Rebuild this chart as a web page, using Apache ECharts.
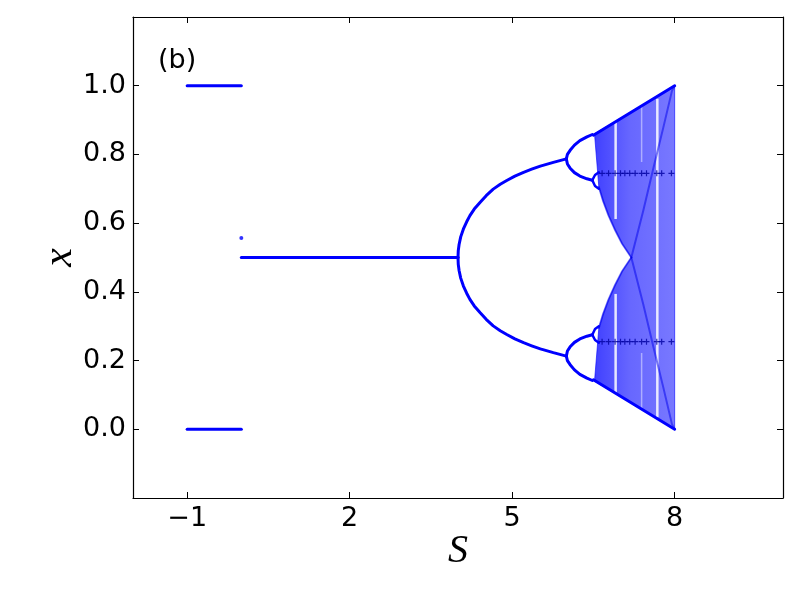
<!DOCTYPE html>
<html>
<head>
<meta charset="utf-8">
<script src="https://cdn.jsdelivr.net/npm/echarts@6/dist/echarts.min.js"></script>
<style>html,body{margin:0;padding:0;background:#fff}#c{width:800px;height:600px}</style>
</head>
<body>
<div id="c"></div>
<script>
// ---- data ----
// period-2 orbit for S in [-1, 0]
const p2aS = [-1, 0];
const p2aTop = [1.0, 1.0];
const p2aBot = [0.0, 0.0];
// isolated point at S = 0
const isoS = [0];
const isoX = [0.557];
// fixed point x = 0.5
const fixS = [0, 4];
const fixX = [0.5, 0.5];
// period-2 branches after S = 4
const p2S  = [4.0, 4.005, 4.02, 4.05, 4.10, 4.16, 4.22, 4.30, 4.41, 4.52, 4.65, 4.78, 4.90, 5.05, 5.21, 5.36, 5.52, 5.76, 6.0];
const p2Up = [0.5, 0.520, 0.538, 0.560, 0.583, 0.604, 0.622, 0.641, 0.661, 0.680, 0.699, 0.713, 0.724, 0.737, 0.748, 0.757, 0.766, 0.777, 0.787];
const p2Lo = [0.5, 0.480, 0.462, 0.440, 0.417, 0.396, 0.378, 0.359, 0.339, 0.320, 0.301, 0.287, 0.276, 0.263, 0.252, 0.243, 0.234, 0.223, 0.213];
// period-4 branches
const p4S  = [6.0, 6.02, 6.07, 6.15, 6.25, 6.38, 6.48];
const p4UU = [0.787, 0.800, 0.812, 0.827, 0.840, 0.851, 0.858];
const p4UL = [0.787, 0.772, 0.760, 0.747, 0.737, 0.729, 0.725];
const p4LU = [0.213, 0.228, 0.240, 0.253, 0.263, 0.271, 0.275];
const p4LL = [0.213, 0.200, 0.188, 0.173, 0.160, 0.149, 0.142];
// period-8 loops
const p8S  = [6.48, 6.53, 6.60];
const p8A  = [0.725, 0.740, 0.748];
const p8B  = [0.725, 0.708, 0.700];
const p8C  = [0.275, 0.260, 0.252];
const p8D  = [0.275, 0.292, 0.300];
// chaotic region outline
const chaosS = [6.52, 8.0, 8.0, 6.52, 6.60, 6.68, 6.78, 6.90, 7.03, 7.20, 7.03, 6.90, 6.78, 6.68, 6.60];
const chaosX = [0.860, 1.0, 0.0, 0.140, 0.295, 0.336, 0.378, 0.420, 0.460, 0.500, 0.540, 0.580, 0.622, 0.664, 0.705];
// envelope edges
const envS  = [6.5, 8.0];
const envUp = [0.856, 1.0];
const envLo = [0.144, 0.0];
// inner band edges and crossing curves
const edgeS  = [6.60, 6.68, 6.78, 6.90, 7.03, 7.20];
const edgeUp = [0.705, 0.664, 0.622, 0.580, 0.540, 0.500];
const edgeLo = [0.295, 0.336, 0.378, 0.420, 0.460, 0.500];
const crossS  = [7.20, 7.42, 7.61, 7.79, 7.95, 8.0];
const crossDn = [0.500, 0.364, 0.238, 0.122, 0.015, 0.0];
const crossUp = [0.500, 0.636, 0.762, 0.878, 0.985, 1.0];
// periodic windows (white gaps)
const gapS    = [6.91, 6.91, 7.68, 7.39, 7.39];
const gapFrom = [0.612, 0.107, 0.035, 0.778, 0.060];
const gapTo   = [0.894, 0.394, 0.962, 0.943, 0.222];
// dotted rows
const dotS  = [6.66, 6.78, 6.90, 7.00, 7.08, 7.17, 7.27, 7.39, 7.48, 7.67, 7.76, 7.94];
const dotHi = 0.745;
const dotLo = 0.255;
// ticks
const xTicks = [-1, 2, 5, 8];

const zip = (a, b) => a.map((v, i) => [v, b[i]]);
const BLUE = '#0000ff';

function lineSeries(s, x, color, width) {
  return {
    type: 'line', data: zip(s, x), showSymbol: false, symbol: 'none', smooth: false,
    lineStyle: { color: color, width: width, cap: 'round', join: 'round' },
    silent: true, z: 5, animation: false
  };
}

const series = [];
// chaotic fill
series.push({
  type: 'custom', silent: true, animation: false, z: 1,
  data: [[chaosS[0], chaosX[0]]],
  renderItem: function (params, api) {
    const pts = chaosS.map((s, i) => api.coord([s, chaosX[i]]));
    return { type: 'polygon', shape: { points: pts }, style: {
      fill: new echarts.graphic.LinearGradient(0, 0, 1, 0, [
        { offset: 0, color: 'rgba(10,10,255,0.78)' },
        { offset: 0.45, color: 'rgba(10,10,255,0.62)' },
        { offset: 1, color: 'rgba(10,10,255,0.55)' }
      ]), stroke: 'rgba(0,0,255,0.6)', lineWidth: 1 } };
  }
});
// gaps
series.push({
  type: 'custom', silent: true, animation: false, z: 2,
  data: gapS.map((s, i) => [s, gapFrom[i], gapTo[i]]),
  encode: { x: 0, y: [1, 2] },
  renderItem: function (params, api) {
    const a = api.coord([api.value(0), api.value(1)]);
    const b = api.coord([api.value(0), api.value(2)]);
    const faint = params.dataIndex >= 3;
    return { type: 'line', shape: { x1: a[0], y1: a[1], x2: b[0], y2: b[1] },
      style: { stroke: '#ffffff', lineWidth: faint ? 1.5 : 2.5, opacity: faint ? 0.45 : 0.85 } };
  }
});
// inner curves
[[edgeS, edgeUp], [edgeS, edgeLo], [crossS, crossDn], [crossS, crossUp]].forEach(p => {
  const s = lineSeries(p[0], p[1], 'rgba(0,0,235,0.5)', 2); s.z = 3; series.push(s);
});
// envelope
series.push(lineSeries(envS, envUp, BLUE, 3));
series.push(lineSeries(envS, envLo, BLUE, 3));
// stable branches
series.push(lineSeries(p2aS, p2aTop, BLUE, 3));
series.push(lineSeries(p2aS, p2aBot, BLUE, 3));
series.push(lineSeries(fixS, fixX, BLUE, 3));
series.push(lineSeries(p2S, p2Up, BLUE, 3));
series.push(lineSeries(p2S, p2Lo, BLUE, 3));
[p4UU, p4UL, p4LU, p4LL].forEach(v => series.push(lineSeries(p4S, v, BLUE, 3)));
[p8A, p8B, p8C, p8D].forEach(v => series.push(lineSeries(p8S, v, BLUE, 2.5)));
// isolated point
series.push({ type: 'scatter', data: zip(isoS, isoX), symbol: 'circle', symbolSize: 4,
  itemStyle: { color: BLUE }, silent: true, z: 6, animation: false });
// dotted rows
const plus = 'path://M2,0H3V2H5V3H3V5H2V3H0V2H2Z';
series.push({ type: 'scatter', data: dotS.map(s => [s, dotHi]).concat(dotS.map(s => [s, dotLo])),
  symbol: plus, symbolSize: 6, itemStyle: { color: '#0000a0' }, silent: true, z: 6, animation: false });

const axisLine = { show: true, onZero: false, lineStyle: { color: '#000', width: 1.2 } };
const tick = { show: true, inside: true, length: 6, lineStyle: { color: '#000', width: 1 } };
const lblFont = { fontFamily: 'DejaVu Sans', fontSize: 27, color: '#000' };

const chart = echarts.init(document.getElementById('c'), null, { renderer: 'canvas' });
chart.setOption({
  animation: false,
  backgroundColor: '#fff',
  title: { text: '(b)', left: 153, top: 42, textStyle: { fontFamily: 'DejaVu Sans', fontSize: 27, fontWeight: 'normal', color: '#000' } },
  grid: { left: 133, right: 17, top: 17, bottom: 102, containLabel: false, outerBoundsMode: 'none' },
  xAxis: [
    { type: 'value', min: -2, max: 10, position: 'bottom', axisLine: axisLine,
      axisTick: Object.assign({}, tick, { customValues: xTicks }),
      axisLabel: Object.assign({}, lblFont, { customValues: xTicks, margin: 7,
        formatter: v => (v < 0 ? '\u2212' + Math.abs(v) : String(v)) }),
      splitLine: { show: false },
      name: 'S', nameLocation: 'middle', nameGap: 33, nameMoveOverlap: false,
      nameTextStyle: { fontFamily: 'Liberation Serif', fontStyle: 'italic', fontSize: 40, color: '#000' } },
    { type: 'value', min: -2, max: 10, position: 'top', axisLine: axisLine,
      axisTick: Object.assign({}, tick, { customValues: xTicks }),
      axisLabel: { show: false }, splitLine: { show: false } }
  ],
  yAxis: [
    { type: 'value', min: -0.2, max: 1.2, interval: 0.2, position: 'left', axisLine: axisLine,
      axisTick: tick,
      axisLabel: Object.assign({}, lblFont, { margin: 7,
        formatter: v => (v < -0.01 || v > 1.01 ? '' : v.toFixed(1)) }),
      splitLine: { show: false },
      name: 'x', nameLocation: 'middle', nameGap: 52, nameRotate: 90, nameMoveOverlap: false,
      nameTextStyle: { fontFamily: 'Liberation Serif', fontStyle: 'italic', fontSize: 42, color: '#000' } },
    { type: 'value', min: -0.2, max: 1.2, interval: 0.2, position: 'right', axisLine: axisLine,
      axisTick: tick, axisLabel: { show: false }, splitLine: { show: false } }
  ],
  series: series
});
</script>
</body>
</html>
